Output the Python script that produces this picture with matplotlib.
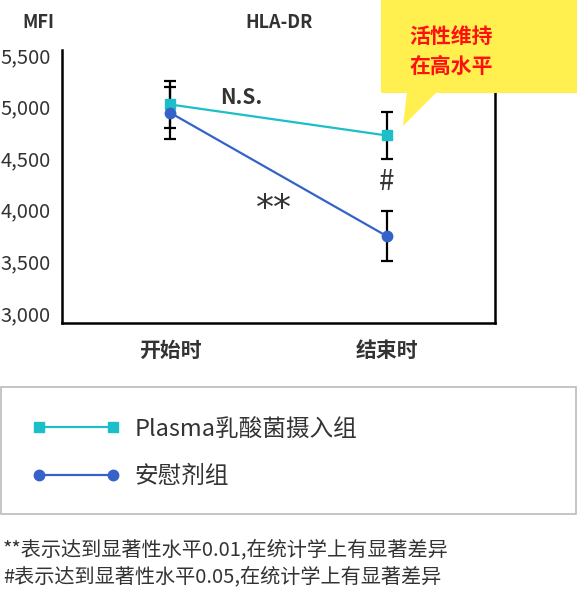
import matplotlib
matplotlib.use('Agg')
import matplotlib.pyplot as plt
from matplotlib.patches import Rectangle, Polygon
from matplotlib.ticker import FuncFormatter

plt.rcParams['font.family'] = ['Noto Sans CJK SC', 'DejaVu Sans']

# 数据
time_labels = ['开始时', '结束时']
plasma_mean = [5020, 4720]
plasma_err = [225, 230]
placebo_mean = [4940, 3745]
placebo_err = [250, 245]
y_ticks = [3000, 3500, 4000, 4500, 5000, 5500]

cyan = '#1CBEC8'
blue = '#3462C8'
txt = '#333333'

fig = plt.figure(figsize=(5.77, 5.9), dpi=100)
ax = fig.add_axes([62/577, 1 - 323/590, 433/577, 273/590])

x = range(len(time_labels))
ax.errorbar(x, plasma_mean, yerr=plasma_err, fmt='none', ecolor='black',
            elinewidth=1.6, capsize=4.5, capthick=1.6, zorder=2)
ax.errorbar(x, placebo_mean, yerr=placebo_err, fmt='none', ecolor='black',
            elinewidth=1.6, capsize=4.5, capthick=1.6, zorder=2)
l1, = ax.plot(x, plasma_mean, color=cyan, lw=1.6, marker='s', ms=6.5, zorder=3,
              label='Plasma乳酸菌摄入组')
l2, = ax.plot(x, placebo_mean, color=blue, lw=1.6, marker='o', ms=7.5, zorder=3,
              label='安慰剂组')

ax.set_xlim(-0.5, 1.5)
ax.set_ylim(2903, 5548)
ax.set_yticks(y_ticks)
ax.yaxis.set_major_formatter(FuncFormatter(lambda v, p: f'{int(v):,}'))
ax.set_xticks(list(x))
ax.set_xticklabels(time_labels, fontsize=15, fontweight='bold', color=txt)
ax.tick_params(axis='both', length=0)
ax.tick_params(axis='y', labelsize=14.5, labelcolor=txt, pad=8)
ax.tick_params(axis='x', pad=12)
ax.spines['top'].set_visible(False)
for s in ['left', 'bottom', 'right']:
    ax.spines[s].set_linewidth(1.8)
    ax.spines[s].set_color('black')

# 标注
ax.text(0.33, 5090, 'N.S.', fontsize=15, fontweight='bold', color=txt,
        ha='center', va='center')
ax.text(0.48, 4010, '**', fontsize=26, color=txt, ha='center', va='center',
        family='DejaVu Sans')
ax.text(1, 4270, '#', fontsize=20, color=txt, ha='center', va='center')

fig.text(38/577, 1 - 23/590, 'MFI', fontsize=13, fontweight='bold', color=txt,
         ha='center', va='center')
fig.text(279/577, 1 - 23/590, 'HLA-DR', fontsize=13, fontweight='bold', color=txt,
         ha='center', va='center')

# 气泡框
yellow = '#FFF050'
fig.patches.append(Rectangle((381/577, 1 - 93/590), 196/577, 93/590,
                             transform=fig.transFigure, facecolor=yellow,
                             edgecolor='none', zorder=5))
fig.patches.append(Polygon([(407/577, 1 - 92/590), (437/577, 1 - 92/590),
                            (403/577, 1 - 126/590)],
                           closed=True, transform=fig.transFigure,
                           facecolor=yellow, edgecolor='none', zorder=5))
fig.text(451/577, 1 - 36/590, '活性维持', fontsize=15, fontweight='bold',
         color='#FF1010', ha='center', va='center', zorder=6)
fig.text(451/577, 1 - 66/590, '在高水平', fontsize=15, fontweight='bold',
         color='#FF1010', ha='center', va='center', zorder=6)

# 图例
fig.patches.append(Rectangle((1/577, 1 - 514/590), 575/577, 127/590,
                             transform=fig.transFigure, facecolor='white',
                             edgecolor='#BBBBBB', lw=1.2, zorder=1))
leg = fig.legend(handles=[l1, l2], loc='center left',
                 bbox_to_anchor=(20/577, 1 - 453/590), frameon=False,
                 fontsize=17, numpoints=2, handlelength=3.75,
                 handletextpad=0.6, labelspacing=1.05, borderpad=0)
for t in leg.get_texts():
    t.set_color(txt)

fig.text(3/577, 1 - 550/590, '**表示达到显著性水平0.01,在统计学上有显著差异',
         fontsize=14.5, color=txt, ha='left', va='center')
fig.text(3/577, 1 - 577/590, '#表示达到显著性水平0.05,在统计学上有显著差异',
         fontsize=14.5, color=txt, ha='left', va='center')

fig.savefig('out.png', dpi=100)
